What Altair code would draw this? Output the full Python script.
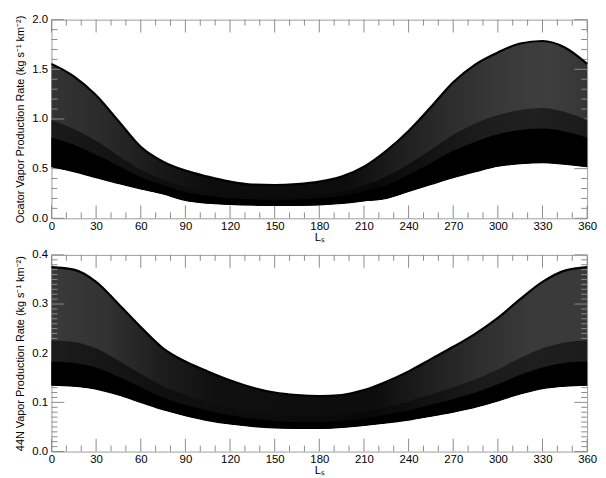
import altair as alt
import pandas as pd

# ---------------- data ----------------
LS = [0, 15, 30, 45, 60, 75, 90, 105, 120, 135, 150, 165, 180,
      195, 210, 225, 240, 255, 270, 285, 300, 315, 330, 345, 360]

# Occator panel: outer envelopes and two inner boundaries of the curve family
OC_UPPER = [1.555, 1.43, 1.24, 0.98, 0.72, 0.57, 0.48, 0.42, 0.37, 0.34, 0.335, 0.345, 0.37,
            0.42, 0.52, 0.68, 0.88, 1.12, 1.37, 1.55, 1.67, 1.76, 1.785, 1.72, 1.555]
OC_MID2 = [0.99, 0.90, 0.78, 0.63, 0.49, 0.39, 0.315, 0.27, 0.245, 0.226, 0.222, 0.227, 0.24,
           0.27, 0.33, 0.42, 0.545, 0.69, 0.84, 0.955, 1.04, 1.09, 1.11, 1.07, 0.99]
OC_MID1 = [0.81, 0.74, 0.64, 0.53, 0.415, 0.335, 0.264, 0.227, 0.204, 0.191, 0.187, 0.19, 0.201,
           0.226, 0.272, 0.334, 0.441, 0.558, 0.679, 0.772, 0.846, 0.889, 0.903, 0.874, 0.81]
OC_LOWER = [0.52, 0.47, 0.41, 0.35, 0.295, 0.245, 0.18, 0.152, 0.14, 0.133, 0.13, 0.13, 0.135,
            0.15, 0.175, 0.2, 0.27, 0.34, 0.41, 0.47, 0.525, 0.55, 0.56, 0.545, 0.52]

# 44N panel
N44_UPPER = [0.375, 0.37, 0.345, 0.30, 0.253, 0.21, 0.183, 0.163, 0.145, 0.13, 0.12, 0.115, 0.113,
             0.115, 0.125, 0.142, 0.163, 0.188, 0.213, 0.24, 0.272, 0.31, 0.345, 0.368, 0.375]
N44_MID2 = [0.226, 0.223, 0.21, 0.185, 0.158, 0.133, 0.115, 0.101, 0.09, 0.081, 0.075, 0.073, 0.072,
            0.074, 0.08, 0.09, 0.102, 0.116, 0.131, 0.147, 0.167, 0.19, 0.21, 0.222, 0.226]
N44_MID1 = [0.183, 0.18, 0.171, 0.152, 0.131, 0.11, 0.095, 0.083, 0.074, 0.067, 0.062, 0.06, 0.06,
            0.062, 0.067, 0.075, 0.084, 0.095, 0.107, 0.12, 0.137, 0.156, 0.171, 0.18, 0.183]
N44_LOWER = [0.135, 0.133, 0.127, 0.115, 0.1, 0.085, 0.073, 0.063, 0.056, 0.051, 0.048, 0.047, 0.047,
             0.049, 0.053, 0.058, 0.064, 0.072, 0.08, 0.09, 0.103, 0.117, 0.128, 0.133, 0.135]

X_MAJOR = [0, 30, 60, 90, 120, 150, 180, 210, 240, 270, 300, 330, 360]
X_MINOR = [v for v in range(0, 361, 10) if v % 30 != 0]
OC_Y_MAJOR = [0.0, 0.5, 1.0, 1.5, 2.0]
OC_Y_MINOR = [0.1, 0.2, 0.3, 0.4, 0.6, 0.7, 0.8, 0.9, 1.1, 1.2, 1.3, 1.4, 1.6, 1.7, 1.8, 1.9]
N44_Y_MAJOR = [0.0, 0.1, 0.2, 0.3, 0.4]
N44_Y_MINOR = [round(i / 100, 2) for i in range(1, 40) if i % 10 != 0]

OC_TITLE = "Ocator Vapor Production Rate (kg s\u207b\u00b9 km\u207b\u00b2)"
N44_TITLE = "44N Vapor Production Rate (kg s\u207b\u00b9 km\u207b\u00b2)"
X_TITLE = "L\u209b"

GRAY = "#9c9c9c"
TICK = "#8a8a8a"
FONT = "Liberation Sans"
W = 542
MAJ, MINL = 13, 6   # tick lengths in pixels


def grad(stops):
    return alt.LinearGradient(
        gradient="linear", x1=0, x2=1, y1=0, y2=0,
        stops=[alt.GradientStop(offset=o, color=c) for o, c in stops])


def panel(lower, mid1, mid2, upper, ymax, ymaj, ymin, ytitle, H, gray_stops, dark_stops):
    curves = pd.DataFrame({"kind": "curve", "Ls": LS, "lower": lower, "mid1": mid1,
                           "mid2": mid2, "upper": upper})
    tick_rows = pd.concat([
        pd.DataFrame({"kind": "xmaj", "v": X_MAJOR}),
        pd.DataFrame({"kind": "xmin", "v": X_MINOR}),
        pd.DataFrame({"kind": "ymaj", "v": ymaj}),
        pd.DataFrame({"kind": "ymin", "v": ymin}),
    ])
    df = pd.concat([curves, tick_rows], ignore_index=True)

    xs = alt.Scale(domain=[0, 360], nice=False, zero=False)
    ys = alt.Scale(domain=[0, ymax], nice=False)
    base = alt.Chart(df)

    lab_x = alt.Axis(orient="bottom", values=X_MAJOR, ticks=False, domain=False, grid=False,
                     format="d", labelFontSize=11.5, labelColor="black", labelPadding=2,
                     labelFlush=False,
                     title=X_TITLE, titleFontSize=11.5, titleFontWeight="normal",
                     titleColor="black", titlePadding=0)
    lab_y = alt.Axis(orient="left", values=ymaj, ticks=False, domain=False, grid=False,
                     format=".1f", labelFontSize=11.5, labelColor="black", labelPadding=4,
                     title=ytitle, titleFontSize=11, titleFontWeight="normal",
                     titleColor="black", titlePadding=6)

    cur = base.transform_filter(alt.datum.kind == "curve")

    def X():
        return alt.X("Ls:Q", scale=xs, axis=lab_x)

    band_gray = cur.mark_area(color=grad(gray_stops), interpolate="monotone").encode(
        x=X(), y=alt.Y("lower:Q", scale=ys, axis=lab_y), y2="upper:Q")
    band_dark = cur.mark_area(color=grad(dark_stops), interpolate="monotone").encode(
        x=X(), y=alt.Y("lower:Q", scale=ys, axis=lab_y), y2="mid2:Q")
    band_black = cur.mark_area(color="black", interpolate="monotone").encode(
        x=X(), y=alt.Y("lower:Q", scale=ys, axis=lab_y), y2="mid1:Q")
    line_up = cur.mark_line(color="black", strokeWidth=2.2, interpolate="monotone").encode(
        x=X(), y=alt.Y("upper:Q", scale=ys, axis=lab_y))
    line_lo = cur.mark_line(color="black", strokeWidth=1.2, interpolate="monotone").encode(
        x=X(), y=alt.Y("lower:Q", scale=ys, axis=lab_y))

    # inward tick marks along the four sides of the frame; the pixel length of a tick
    # is turned into data units of the perpendicular axis so that both ends go through the scales
    def xt(kind, length, top):
        dy = length / H * ymax
        a, b = (ymax, ymax - dy) if top else (0, dy)
        return base.transform_filter(alt.datum.kind == kind).transform_calculate(
            t0=str(a), t1=str(b)).mark_rule(color=TICK, strokeWidth=1).encode(
            x=alt.X("v:Q", scale=xs, axis=lab_x),
            y=alt.Y("t0:Q", scale=ys, axis=lab_y), y2="t1:Q")

    def yt(kind, length, right):
        dx = length / W * 360
        a, b = (360, 360 - dx) if right else (0, dx)
        return base.transform_filter(alt.datum.kind == kind).transform_calculate(
            t0=str(a), t1=str(b)).mark_rule(color=TICK, strokeWidth=1).encode(
            y=alt.Y("v:Q", scale=ys, axis=lab_y),
            x=alt.X("t0:Q", scale=xs, axis=lab_x), x2="t1:Q")

    ticks = [xt("xmaj", MAJ, False), xt("xmin", MINL, False),
             xt("xmaj", MAJ, True), xt("xmin", MINL, True),
             yt("ymaj", MAJ, False), yt("ymin", MINL, False),
             yt("ymaj", MAJ, True), yt("ymin", MINL, True)]

    return alt.layer(band_gray, *ticks, band_dark, band_black, line_up, line_lo).properties(
        width=W, height=H)


top = panel(OC_LOWER, OC_MID1, OC_MID2, OC_UPPER, 2.0, OC_Y_MAJOR, OC_Y_MINOR, OC_TITLE, 201,
            [(0, "#343434"), (0.1, "#2a2a2a"), (0.2, "#181818"), (0.3, "#0c0c0c"),
             (0.55, "#0c0c0c"), (0.65, "#1e1e1e"), (0.75, "#2e2e2e"), (0.85, "#3a3a3a"),
             (0.93, "#3e3e3e"), (1, "#363636")],
            [(0, "#1a1a1a"), (0.2, "#0e0e0e"), (0.6, "#080808"), (0.8, "#1c1c1c"),
             (0.9, "#202020"), (1, "#1a1a1a")])
bottom = panel(N44_LOWER, N44_MID1, N44_MID2, N44_UPPER, 0.4, N44_Y_MAJOR, N44_Y_MINOR, N44_TITLE, 199,
               [(0, "#3a3a3a"), (0.1, "#323232"), (0.2, "#1e1e1e"), (0.3, "#101010"),
                (0.6, "#0c0c0c"), (0.7, "#1e1e1e"), (0.8, "#2e2e2e"), (0.9, "#3a3a3a"),
                (1, "#3a3a3a")],
               [(0, "#1c1c1c"), (0.2, "#101010"), (0.6, "#080808"), (0.8, "#1a1a1a"),
                (0.9, "#1e1e1e"), (1, "#1c1c1c")])

chart = alt.vconcat(top, bottom, spacing=4).properties(
    padding={"left": 6, "top": 2, "right": 0, "bottom": 0}
).configure_view(stroke=GRAY, strokeWidth=1).configure_axis(
    labelFont=FONT, titleFont=FONT)

chart.save("out.html", embed_options={"renderer": "svg", "actions": False})
